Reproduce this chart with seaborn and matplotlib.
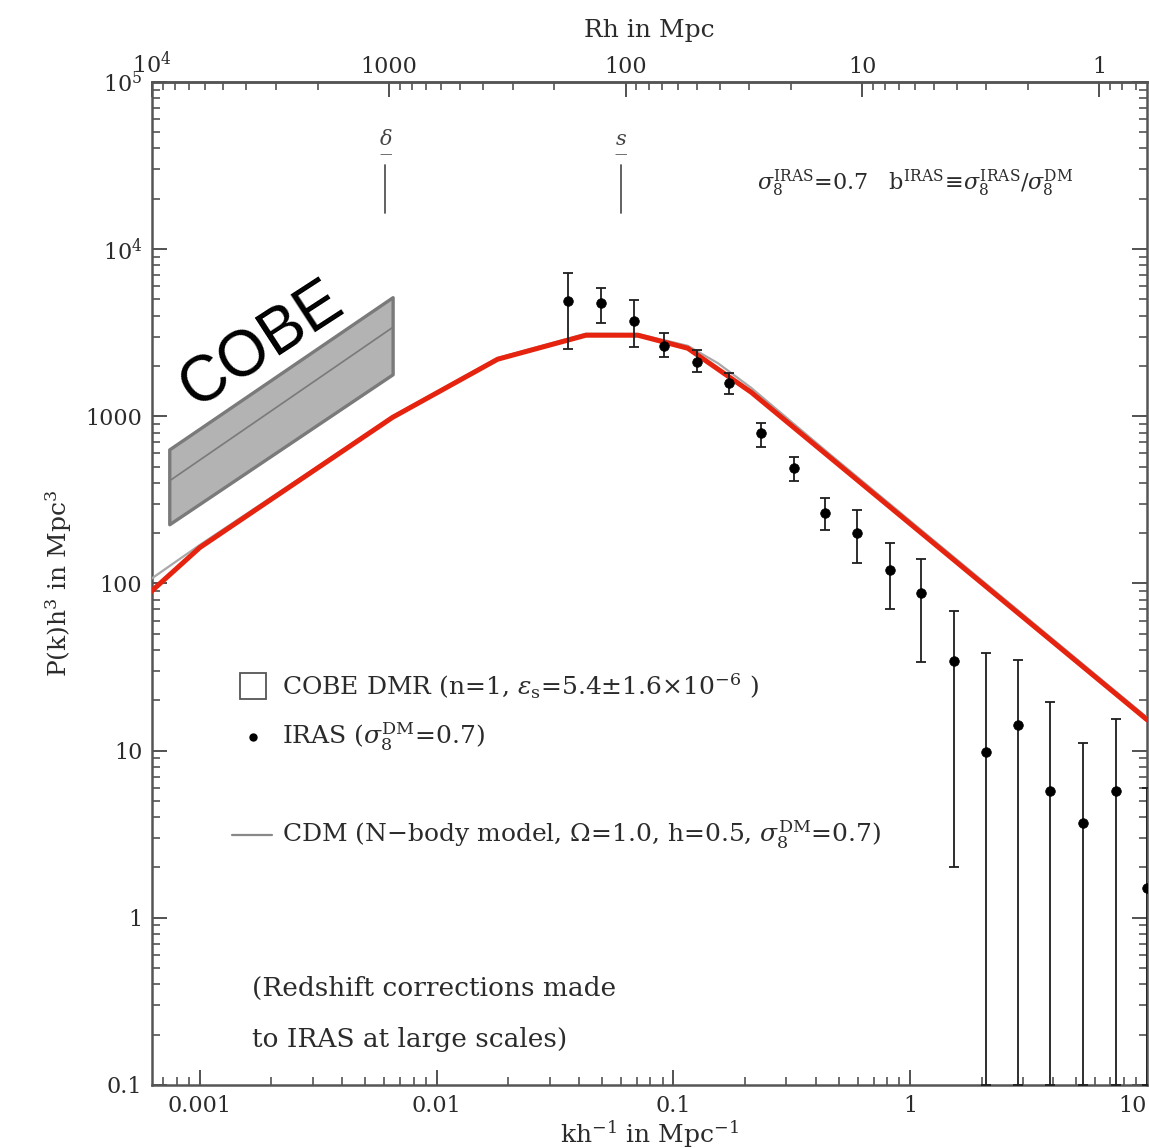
import numpy as np
import pandas as pd
import matplotlib
matplotlib.use('Agg')
import matplotlib.pyplot as plt
import seaborn as sns
from matplotlib import ticker

# ---------------- data ----------------
# CDM model (red trace and the grey original underneath)
model_k = [0.00062, 0.001, 0.00652, 0.0181, 0.0427, 0.0708, 0.115, 0.213, 10.0]
model_p = [89, 164, 986, 2195, 3055, 3055, 2553, 1393, 15.3]

cdm_k = [0.00062, 0.001, 0.00258, 0.00652, 0.0181, 0.0427, 0.0708, 0.115, 0.154, 0.213, 0.45, 10.0]
cdm_p = [106, 170, 415, 1000, 2230, 3120, 3110, 2640, 2080, 1480, 605, 15.8]

# COBE DMR band
cobe_k = [0.000743, 0.00652]
cobe_lo = [226, 1784]
cobe_hi = [634, 5160]
cobe_mid = [410, 3400]

# IRAS points with error bars
iras_k = [0.0358, 0.0493, 0.0681, 0.0912, 0.126, 0.172, 0.234, 0.323, 0.437, 0.597,
          0.823, 1.11, 1.53, 2.09, 2.86, 3.91, 5.34, 7.36, 10.0]
iras_p = [4880, 4740, 3700, 2620, 2100, 1580, 792, 490, 264, 200,
          120, 88, 34.4, 9.8, 14.3, 5.7, 3.7, 5.7, 1.5]
iras_lo = [2510, 3600, 2590, 2250, 1840, 1355, 653, 409, 208, 132,
           70, 34, 2.0, 0.1, 0.1, 0.1, 0.1, 0.1, 0.1]
iras_hi = [7180, 5830, 4940, 3140, 2480, 1810, 910, 570, 324, 275,
           175, 140, 68, 38.5, 35, 19.5, 11.1, 15.5, 6.0]

# scale markers near the top
mark_k = [0.00608, 0.060]
mark_sym = [r'$\delta$', r'$s$']

y_ticks = [0.1, 1, 10, 100, 1000, 1e4, 1e5]
y_labels = ['0.1', '1', '10', '100', '1000', r'$10^4$', r'$10^5$']
x_ticks = [0.001, 0.01, 0.1, 1, 10]
x_labels = ['0.001', '0.01', '0.1', '1', '10']
r_ticks = [1e4, 1000, 100, 10, 1]
r_labels = [r'$10^4$', '1000', '100', '10', '1']

# ---------------- style ----------------
sns.set_theme(style='ticks')
plt.rcParams['font.family'] = ['DejaVu Serif']
plt.rcParams['mathtext.fontset'] = 'dejavuserif'
ink = '#2b2b2b'
txt = 18

fig = plt.figure(figsize=(11.49, 11.48), dpi=100)
ax = fig.add_axes([0.1323, 0.0549, 0.8660, 0.8737])
ax.set_xscale('log')
ax.set_yscale('log')
ax.set_xlim(2 * np.pi / 1e4, 10)
ax.set_ylim(0.1, 1e5)

# COBE band
ax.fill_between(cobe_k, cobe_lo, cobe_hi, facecolor='#b3b3b3', edgecolor='#7a7a7a',
                linewidth=2.4, zorder=2)
ax.plot(cobe_k, cobe_mid, color='#7a7a7a', lw=1.2, zorder=3)
ax.text(0.1106, 0.738, 'COBE', transform=ax.transAxes, rotation=33,
        family='Liberation Sans', fontsize=46, color='black',
        ha='center', va='center', rotation_mode='anchor', zorder=4)

# model curves
sns.lineplot(x=cdm_k, y=cdm_p, sort=False, color='#a8a8a8', lw=1.6, ax=ax, zorder=3)
sns.lineplot(x=model_k, y=model_p, sort=False, color='#e6230f', lw=3.6, ax=ax, zorder=4)

# IRAS
iras = pd.DataFrame({'k': iras_k, 'p': iras_p, 'lo': iras_lo, 'hi': iras_hi})
ax.errorbar(iras['k'], iras['p'], yerr=[iras['p'] - iras['lo'], iras['hi'] - iras['p']],
            fmt='none', ecolor='#1e1e1e', elinewidth=1.3, capsize=3.5, capthick=1.3, zorder=5)
sns.scatterplot(data=iras, x='k', y='p', color='black', s=48, edgecolor='black',
                linewidth=0.5, ax=ax, zorder=6)

# scale markers
for k, sym in zip(mark_k, mark_sym):
    ax.axvline(k, ymin=0.869, ymax=0.917, color='#555555', lw=1.3)
    ax.text(k, 0.943, sym, transform=ax.get_xaxis_transform(), ha='center', va='center',
            fontsize=15, color='#444444')
    ax.text(k, 0.928, '\u2014', transform=ax.get_xaxis_transform(), ha='center',
            va='center', fontsize=9, color='#444444')

# text annotations
ax.text(0.608, 0.899, r'$\sigma_8^{\rm IRAS}$=0.7   b$^{\rm IRAS}\!\equiv\!\sigma_8^{\rm IRAS}/\sigma_8^{\rm DM}$',
        transform=ax.transAxes, fontsize=16, color=ink, va='center')

ax.plot([0.1015], [0.398], marker='s', ms=19, mfc='white', mec='#555555', mew=1.3,
        transform=ax.transAxes, clip_on=False)
ax.text(0.1307, 0.398, r'COBE DMR (n=1, $\epsilon_{\rm s}$=5.4$\pm$1.6$\times$10$^{-6}$ )',
        transform=ax.transAxes, fontsize=txt, color=ink, va='center')
ax.plot([0.1015], [0.347], marker='o', ms=5, color='black', transform=ax.transAxes)
ax.text(0.1307, 0.347, r'IRAS ($\sigma_8^{\rm DM}$=0.7)',
        transform=ax.transAxes, fontsize=txt, color=ink, va='center')
ax.plot([0.0804, 0.1206], [0.249, 0.249], color='#888888', lw=1.6, transform=ax.transAxes)
ax.text(0.1307, 0.249, r'CDM (N$-$body model, $\Omega$=1.0, h=0.5, $\sigma_8^{\rm DM}$=0.7)',
        transform=ax.transAxes, fontsize=txt, color=ink, va='center')
ax.text(0.1005, 0.0967, '(Redshift corrections made', transform=ax.transAxes,
        fontsize=19, color=ink, va='center')
ax.text(0.1005, 0.0449, 'to IRAS at large scales)', transform=ax.transAxes,
        fontsize=19, color=ink, va='center')

# axes, ticks
ax.yaxis.set_major_locator(ticker.FixedLocator(y_ticks))
ax.yaxis.set_major_formatter(ticker.FixedFormatter(y_labels))
ax.yaxis.set_minor_locator(ticker.LogLocator(base=10, subs=np.arange(2, 10), numticks=20))
ax.yaxis.set_minor_formatter(ticker.NullFormatter())
ax.xaxis.set_major_locator(ticker.FixedLocator(x_ticks))
ax.xaxis.set_major_formatter(ticker.FixedFormatter(x_labels))
ax.xaxis.set_minor_locator(ticker.LogLocator(base=10, subs=np.arange(2, 10), numticks=20))
ax.xaxis.set_minor_formatter(ticker.NullFormatter())
ax.tick_params(which='both', direction='in', top=False, right=True, colors='#444444',
               labelcolor=ink, labelsize=16)
ax.tick_params(which='major', length=11, width=1.3, pad=7)
ax.tick_params(which='minor', length=6, width=1.1)

secax = ax.secondary_xaxis('top', functions=(lambda k: 2 * np.pi / np.clip(k, 1e-12, None),
                                             lambda r: 2 * np.pi / np.clip(r, 1e-12, None)))
secax.xaxis.set_major_locator(ticker.FixedLocator(r_ticks))
secax.xaxis.set_major_formatter(ticker.FixedFormatter(r_labels))
secax.xaxis.set_minor_locator(ticker.LogLocator(base=10, subs=np.arange(2, 10), numticks=20))
secax.xaxis.set_minor_formatter(ticker.NullFormatter())
secax.tick_params(which='both', direction='in', colors='#444444', labelcolor=ink, labelsize=16)
secax.tick_params(which='major', length=11, width=1.3, pad=3)
secax.tick_params(which='minor', length=6, width=1.1)
secax.set_xlabel('Rh in Mpc', fontsize=18, color=ink, labelpad=10)
secax.spines['top'].set_color('#555555')
secax.spines['top'].set_linewidth(1.8)

ax.set_xlabel(r'kh$^{-1}$ in Mpc$^{-1}$', fontsize=18, color=ink, labelpad=1)
ax.set_ylabel(r'P(k)h$^3$ in Mpc$^3$', fontsize=18, color=ink, labelpad=8)
for s in ax.spines.values():
    s.set_visible(True)
    s.set_color('#555555')
    s.set_linewidth(1.8)

# keep the right-most bottom label inside the picture
fig.canvas.draw()
ax.get_xticklabels()[-1].set_horizontalalignment('right')

fig.savefig('out.png', dpi=100)
